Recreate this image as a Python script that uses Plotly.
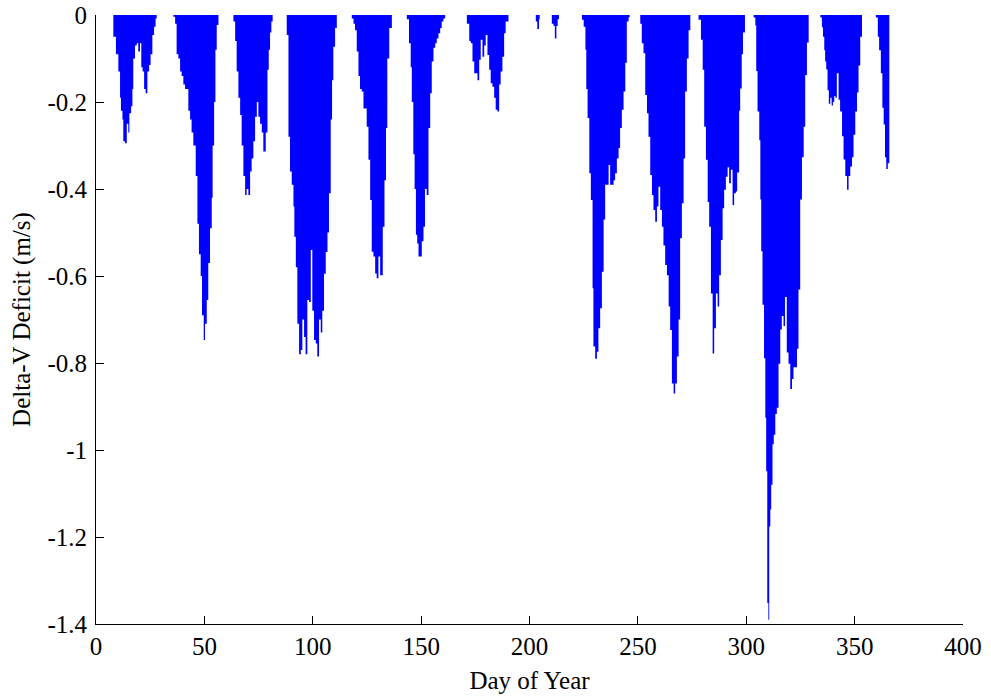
import plotly.graph_objects as go

# ---- data: delta-V deficit (m/s) per eclipse season ----
lobe1_day = [8.0, 9.2, 10.3, 11.1, 11.5, 12.2, 12.6, 13.4, 14.2, 14.9, 15.4, 16.2, 16.8, 17.2, 18.0, 18.8,
             19.5, 20.3, 20.9, 21.5, 22.2, 22.9, 23.7, 24.5, 25.2, 26.0, 26.8, 27.5, 28.0]
lobe1_dv = [-0.05, -0.09, -0.13, -0.19, -0.22, -0.24, -0.29, -0.295, -0.25, -0.27, -0.226, -0.21, -0.17, -0.10,
            -0.07, -0.065, -0.084, -0.065, -0.12, -0.13, -0.17, -0.18, -0.13, -0.115, -0.09, -0.046, -0.027,
            -0.008, 0]

lobe2_day = [35.7, 36.5, 37.2, 38.0, 38.8, 39.5, 40.3, 41.1, 41.8, 42.6, 43.4, 44.1, 44.9, 46.0, 46.8, 47.5,
             48.3, 48.9, 49.7, 50.3, 51.1, 51.8, 52.6, 53.4, 53.8, 54.5, 55.1, 55.7, 56.5]
lobe2_dv = [-0.004, -0.02, -0.09, -0.10, -0.13, -0.14, -0.16, -0.17, -0.17, -0.22, -0.24, -0.27, -0.30, -0.37,
            -0.48, -0.55, -0.60, -0.69, -0.747, -0.71, -0.655, -0.57, -0.49, -0.42, -0.30, -0.20, -0.08,
            -0.023, 0]

lobe3_day = [63.4, 64.2, 64.9, 65.7, 66.5, 67.2, 68.0, 68.8, 69.5, 70.3, 71.1, 71.8, 72.6, 73.4, 74.2, 74.9,
             75.7, 76.5, 77.2, 78.3, 79.1, 79.7, 80.3, 80.9, 81.5]
lobe3_dv = [-0.015, -0.06, -0.13, -0.19, -0.23, -0.30, -0.37, -0.414, -0.40, -0.414, -0.36, -0.33, -0.29,
            -0.234, -0.20, -0.234, -0.25, -0.27, -0.314, -0.27, -0.126, -0.08, -0.04, -0.015, 0]

lobe4_day = [88.0, 88.8, 89.5, 90.3, 91.1, 91.5, 92.2, 92.9, 93.7, 94.5, 95.2, 96.0, 96.7, 97.5, 98.3, 99.1,
             99.8, 100.6, 101.4, 102.1, 102.9, 103.7, 104.4, 105.2, 106.0, 106.8, 107.5, 108.3, 108.9, 109.5,
             110.3, 111.1]
lobe4_dv = [-0.046, -0.28, -0.36, -0.39, -0.44, -0.51, -0.58, -0.71, -0.78, -0.77, -0.70, -0.74, -0.78, -0.655,
            -0.66, -0.54, -0.68, -0.747, -0.755, -0.785, -0.70, -0.73, -0.68, -0.595, -0.545, -0.50, -0.41,
            -0.24, -0.15, -0.073, -0.03, 0]

lobe5_day = [118.0, 118.8, 119.5, 120.3, 121.1, 121.8, 122.6, 123.4, 124.9, 125.7, 126.5, 127.2, 128.0, 128.8,
             129.5, 130.3, 131.1, 132.3, 133.1, 133.8, 134.4, 135.3, 136.5]
lobe5_dv = [-0.008, -0.02, -0.035, -0.084, -0.14, -0.17, -0.176, -0.215, -0.257, -0.333, -0.425, -0.544,
            -0.555, -0.594, -0.605, -0.555, -0.598, -0.487, -0.38, -0.26, -0.10, -0.03, 0]

lobe6_day = [143.4, 144.4, 145.2, 145.7, 146.4, 147.0, 147.6, 148.2, 148.8, 149.5, 150.3, 151.1, 151.8, 152.6,
             153.4, 154.2, 154.9, 155.7, 156.5, 157.2, 158.0, 158.8, 159.5, 160.3, 161.1]
lobe6_dv = [-0.01, -0.065, -0.12, -0.20, -0.32, -0.40, -0.505, -0.525, -0.555, -0.555, -0.52, -0.487, -0.40,
            -0.414, -0.26, -0.18, -0.107, -0.075, -0.065, -0.054, -0.042, -0.03, -0.015, -0.008, 0]

lobe7_day = [171.1, 172.2, 172.9, 173.7, 174.5, 175.2, 176.0, 176.8, 177.5, 178.3, 179.1, 179.8, 180.6, 181.4,
             182.1, 182.9, 183.7, 184.4, 185.2, 186.0, 186.7, 187.5, 188.3, 189.0, 190.3]
lobe7_dv = [-0.02, -0.06, -0.065, -0.107, -0.134, -0.134, -0.15, -0.103, -0.057, -0.096, -0.07, -0.046, -0.092,
            -0.126, -0.157, -0.165, -0.19, -0.218, -0.222, -0.16, -0.13, -0.096, -0.042, -0.015, 0]

lobe8_day = [202.9, 203.6, 204.4, 204.7]
lobe8_dv = [-0.015, -0.032, -0.01, 0]

lobe9_day = [210.3, 211.1, 211.7, 212.4, 213.0, 213.6]
lobe9_dv = [-0.02, -0.025, -0.054, -0.025, -0.01, 0]

lobe10_day = [224.2, 225.0, 225.8, 226.2, 226.8, 227.6, 228.3, 229.1, 229.5, 230.3, 231.1, 231.8, 232.6, 233.4,
              234.2, 234.9, 235.7, 236.5, 237.2, 238.0, 238.8, 239.5, 240.3, 241.1, 241.8, 242.6, 243.4, 244.2,
              244.9, 245.7, 246.2]
lobe10_dv = [-0.011, -0.027, -0.08, -0.17, -0.237, -0.364, -0.425, -0.628, -0.762, -0.79, -0.774, -0.72, -0.674,
             -0.59, -0.47, -0.39, -0.39, -0.345, -0.39, -0.39, -0.38, -0.364, -0.33, -0.306, -0.26, -0.218,
             -0.176, -0.11, -0.015, -0.005, 0]

lobe11_day = [251.1, 251.8, 252.6, 253.4, 254.2, 254.9, 255.7, 256.5, 257.2, 258.0, 258.8, 259.5, 260.3, 261.1,
              261.8, 262.6, 263.4, 264.2, 264.9, 265.7, 266.5, 267.2, 268.0, 268.8, 269.5, 270.3, 271.1, 271.8,
              272.6, 273.4, 274.2]
lobe11_dv = [-0.02, -0.065, -0.088, -0.184, -0.226, -0.28, -0.368, -0.414, -0.448, -0.475, -0.44, -0.395,
             -0.448, -0.487, -0.53, -0.575, -0.598, -0.67, -0.724, -0.847, -0.87, -0.847, -0.785, -0.70, -0.513,
             -0.433, -0.33, -0.176, -0.10, -0.035, 0]

lobe12_day = [278.0, 279.1, 279.9, 280.6, 281.4, 282.2, 282.9, 283.7, 284.5, 285.2, 286.0, 286.8, 287.5, 288.3,
              289.1, 289.8, 290.6, 291.4, 292.1, 292.9, 293.7, 294.4, 295.2, 295.8, 296.7, 297.2, 297.9, 298.5,
              299.4]
lobe12_dv = [-0.011, -0.057, -0.126, -0.257, -0.333, -0.43, -0.487, -0.64, -0.778, -0.72, -0.64, -0.67, -0.598,
             -0.517, -0.444, -0.402, -0.372, -0.35, -0.387, -0.356, -0.437, -0.41, -0.406, -0.362, -0.22, -0.169,
             -0.09, -0.04, 0]

lobe13_day = [303.4, 304.2, 304.6, 305.2, 306.0, 306.5, 306.9, 307.5, 308.2, 308.8, 309.2, 309.7, 310.2, 310.6,
              311.1, 311.5, 312.1, 312.7, 313.4, 314.1, 314.9, 315.7, 316.4, 317.2, 317.9, 318.7, 319.5, 320.3,
              321.1, 321.8, 322.6, 323.4, 324.1, 324.9, 325.7, 326.5, 327.2, 328.0, 328.8]
lobe13_dv = [-0.006, -0.024, -0.129, -0.222, -0.288, -0.424, -0.543, -0.666, -0.789, -0.926, -1.049, -1.352,
             -1.39, -1.176, -1.137, -1.08, -0.987, -0.965, -0.917, -0.903, -0.802, -0.723, -0.692, -0.715, -0.648,
             -0.776, -0.802, -0.86, -0.837, -0.81, -0.81, -0.767, -0.631, -0.424, -0.327, -0.257, -0.138, -0.063,
             0]

lobe14_day = [334.2, 334.9, 335.4, 336.0, 336.4, 336.9, 337.5, 338.1, 338.8, 339.4, 340.0, 340.6, 341.2, 341.8,
              342.6, 343.3, 344.2, 344.9, 345.7, 346.5, 347.2, 348.0, 348.8, 349.5, 350.3, 351.1, 351.8, 352.6,
              353.4]
lobe14_dv = [-0.006, -0.028, -0.05, -0.081, -0.107, -0.125, -0.173, -0.204, -0.19, -0.208, -0.20, -0.187, -0.19,
             -0.134, -0.195, -0.222, -0.279, -0.332, -0.37, -0.402, -0.37, -0.348, -0.327, -0.275, -0.222, -0.178,
             -0.116, -0.05, 0]

lobe15_day = [359.8, 360.7, 361.3, 362.1, 362.8, 363.4, 364.0, 364.6, 365.3, 366.0]
lobe15_dv = [-0.006, -0.05, -0.081, -0.134, -0.213, -0.252, -0.327, -0.354, -0.341, 0]

x_tick_vals = [0, 50, 100, 150, 200, 250, 300, 350, 400]
x_tick_text = ["0", "50", "100", "150", "200", "250", "300", "350", "400"]
y_tick_vals = [0, -0.2, -0.4, -0.6, -0.8, -1.0, -1.2, -1.4]
y_tick_text = ["0", "-0.2", "-0.4", "-0.6", "-0.8", "-1", "-1.2", "-1.4"]

lobes = [
    (lobe1_day, lobe1_dv), (lobe2_day, lobe2_dv), (lobe3_day, lobe3_dv), (lobe4_day, lobe4_dv),
    (lobe5_day, lobe5_dv), (lobe6_day, lobe6_dv), (lobe7_day, lobe7_dv), (lobe8_day, lobe8_dv),
    (lobe9_day, lobe9_dv), (lobe10_day, lobe10_dv), (lobe11_day, lobe11_dv), (lobe12_day, lobe12_dv),
    (lobe13_day, lobe13_dv), (lobe14_day, lobe14_dv), (lobe15_day, lobe15_dv),
]
days, deficit = [], []
for d, v in lobes:
    days.extend(d)
    deficit.extend(v)

FONT = "Liberation Serif"
fig = go.Figure(
    go.Scatter(
        x=days, y=deficit, mode="lines",
        line=dict(shape="hv", width=0, color="#0000FF"),
        fill="tozeroy", fillcolor="#0000FF", hoverinfo="skip", showlegend=False,
    )
)

axis_common = dict(
    showgrid=False, zeroline=False, showline=True, linecolor="black", linewidth=1,
    ticks="inside", ticklen=8, tickwidth=1, tickcolor="black", mirror=False,
    tickfont=dict(family=FONT, size=25, color="black"), automargin=False,
)
fig.update_layout(
    width=991, height=698,
    margin=dict(l=96, r=28, t=15, b=74),
    paper_bgcolor="white", plot_bgcolor="white",
    xaxis=dict(range=[0, 400], tickmode="array", tickvals=x_tick_vals, ticktext=x_tick_text,
               title=dict(text="Day of Year", font=dict(family=FONT, size=25, color="black"), standoff=12),
               **axis_common),
    yaxis=dict(range=[-1.4, 0], tickmode="array", tickvals=y_tick_vals, ticktext=y_tick_text,
               ticklabelstandoff=3,
               title=dict(text="Delta-V Deficit (m/s)", font=dict(family=FONT, size=25, color="black"), standoff=9),
               **axis_common),
)
fig.write_html(
    "out.html",
    config=dict(displayModeBar=False, staticPlot=True),
    post_script="document.body.style.margin='0';document.body.style.overflow='hidden';",
)
